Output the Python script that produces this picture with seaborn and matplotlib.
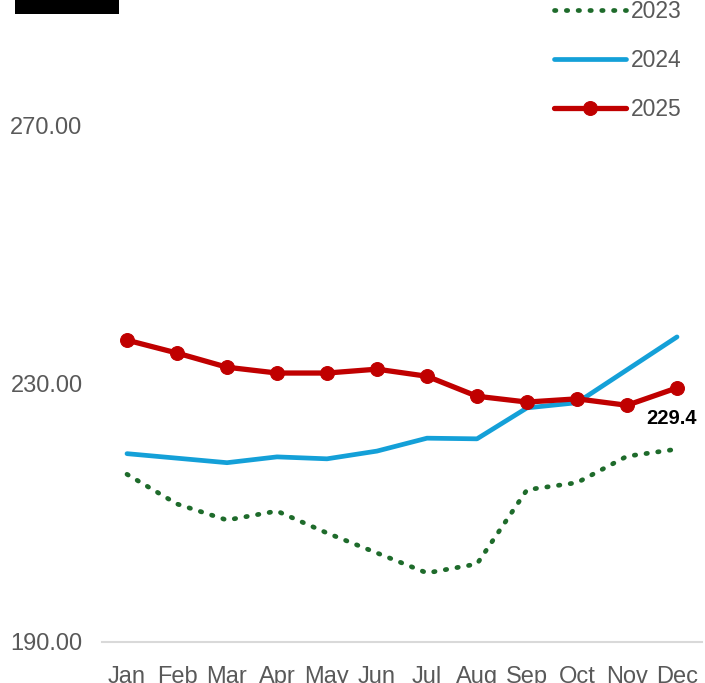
import matplotlib
matplotlib.use("Agg")
import matplotlib.pyplot as plt
import seaborn as sns
import pandas as pd
from matplotlib.patches import Rectangle

months = ["Jan", "Feb", "Mar", "Apr", "May", "Jun", "Jul", "Aug", "Sep", "Oct", "Nov", "Dec"]
s2023 = [216.0, 211.4, 208.9, 210.3, 206.9, 203.8, 200.7, 202.1, 213.6, 214.7, 218.8, 219.9]
s2024 = [219.2, 218.5, 217.8, 218.7, 218.4, 219.6, 221.6, 221.5, 226.3, 227.1, 232.2, 237.3]
s2025 = [236.8, 234.8, 232.6, 231.7, 231.7, 232.3, 231.2, 228.1, 227.2, 227.7, 226.7, 229.4]
yticks = [190, 230, 270]
last_label = "229.4"

sns.set_theme(style="white")
plt.rcParams['font.family'] = ['Liberation Sans Narrow', 'Liberation Sans', 'DejaVu Sans']

W, H = 705, 683
fig = plt.figure(figsize=(W / 100, H / 100), dpi=100)
ax = fig.add_axes([102 / W, (H - 642) / H, 600 / W, 642 / H])

df = pd.DataFrame({"x": list(range(12)), "2023": s2023, "2024": s2024, "2025": s2025})

green = "#1E6B2B"
blue = "#14A0D8"
red = "#C00000"
grey = "#595959"

sns.lineplot(data=df, x="x", y="2023", ax=ax, color=green, linewidth=3.4,
             linestyle=(0, (0.3, 2.2)), label="2023")
sns.lineplot(data=df, x="x", y="2024", ax=ax, color=blue, linewidth=3.4,
             solid_capstyle="round", label="2024")
sns.lineplot(data=df, x="x", y="2025", ax=ax, color=red, linewidth=3.8, marker="o",
             markersize=10, markeredgecolor=red, solid_capstyle="round", label="2025")
for l in ax.get_lines():
    if l.get_label() == "2023":
        l.set_dash_capstyle("round")

ax.annotate(last_label, (11, s2025[-1]), xytext=(-4, -29), textcoords="offset points",
            ha="center", va="bottom", fontsize=14.5, fontweight="bold", color="black",
            family=['Liberation Sans', 'DejaVu Sans'])

ax.set_xlim(-0.5, 11.5)
ax.set_ylim(190, 190 + 642 / 6.45)
ax.set_xticks(range(12))
ax.set_xticklabels(months)
ax.set_yticks(yticks)
ax.set_yticklabels([f"{v:.2f}" for v in yticks])
ax.tick_params(axis="x", colors=grey, labelsize=17, length=0, pad=17)
ax.tick_params(axis="y", colors=grey, labelsize=17, length=0, pad=14)
ax.set_xlabel("")
ax.set_ylabel("")
for s in ["top", "right", "left"]:
    ax.spines[s].set_visible(False)
ax.spines["bottom"].set_color("#D9D9D9")
ax.spines["bottom"].set_linewidth(1.5)
ax.set_facecolor("white")
ax.grid(False)

leg = ax.legend(loc="upper left", bbox_to_anchor=(533 / W, 1.0 + 21 / H), bbox_transform=fig.transFigure,
                frameon=False, handlelength=3.15, labelspacing=1.15, handletextpad=0.2,
                prop={"family": ['Liberation Sans', 'DejaVu Sans'], "size": 16.5})
for t in leg.get_texts():
    t.set_color(grey)

fig.patches.append(Rectangle((15 / W, 1 - 14 / H), 104 / W, 14 / H, transform=fig.transFigure,
                             facecolor="black", edgecolor="none"))

fig.savefig("out.png", dpi=100)
